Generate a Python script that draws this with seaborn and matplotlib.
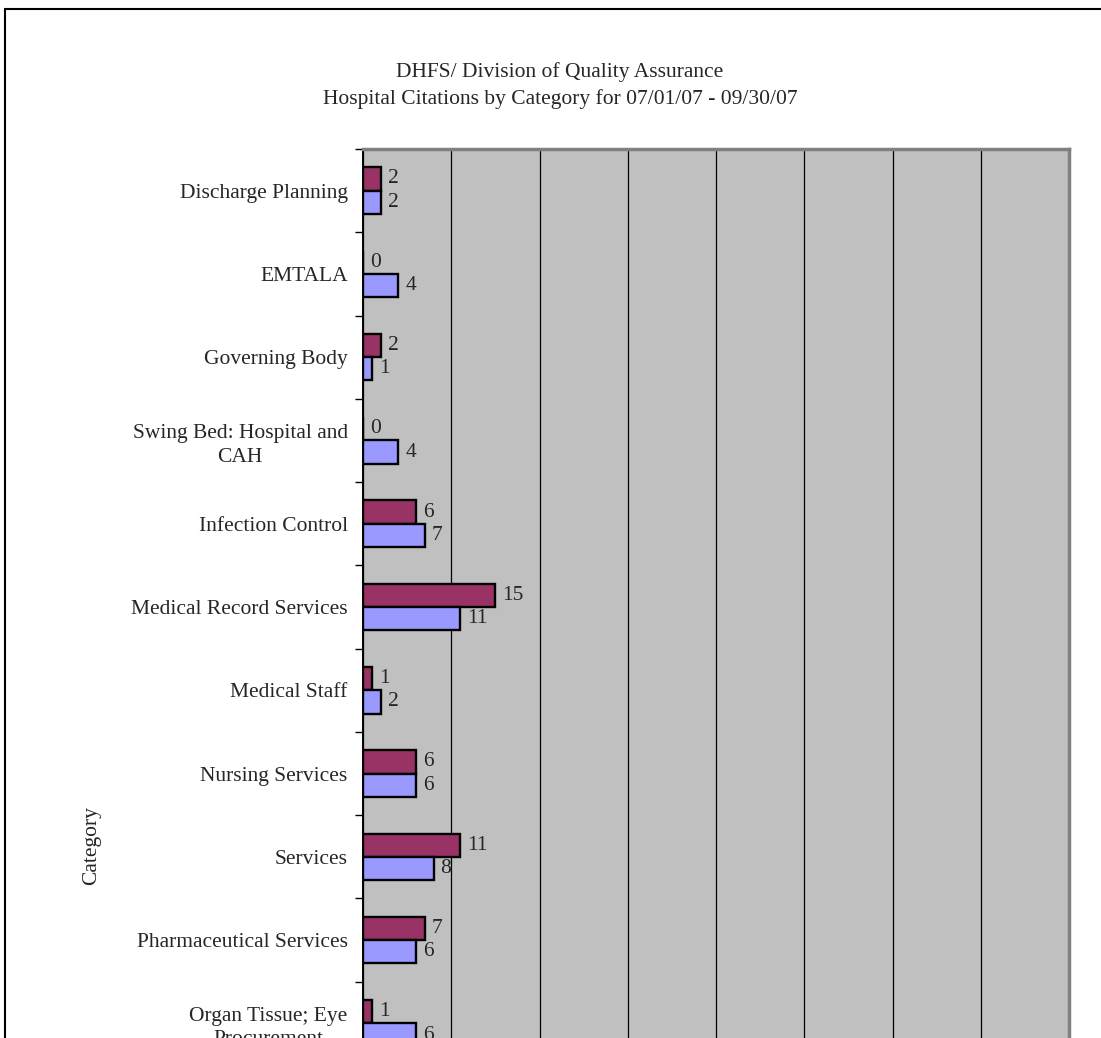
import numpy as np
import pandas as pd
import matplotlib
import seaborn as sns

matplotlib.use("Agg")
from matplotlib import pyplot as plt
from matplotlib.lines import Line2D
from matplotlib.ticker import MultipleLocator

categories = [
    "Discharge Planning",
    "EMTALA",
    "Governing Body",
    "Swing Bed: Hospital and\nCAH",
    "Infection Control",
    "Medical Record Services",
    "Medical Staff",
    "Nursing Services",
    "Services",
    "Pharmaceutical Services",
    "Organ Tissue; Eye\nProcurement",
]
series_names = ["Series 1", "Series 2"]
series_1 = [2, 0, 2, 0, 6, 15, 1, 6, 11, 7, 1]
series_2 = [2, 4, 1, 4, 7, 11, 2, 6, 8, 6, 6]

TITLE = "DHFS/ Division of Quality Assurance\nHospital Citations by Category for 07/01/07 - 09/30/07"
COLORS = ["#993366", "#9999FF"]
FS = 15.5

df = pd.concat(
    [
        pd.DataFrame({"category": categories, "count": series_1, "series": series_names[0]}),
        pd.DataFrame({"category": categories, "count": series_2, "series": series_names[1]}),
    ],
    ignore_index=True,
)

sns.set_style("white")
plt.rcParams["font.family"] = ["Liberation Serif", "DejaVu Serif"]

W, H = 1101, 1038
fig = plt.figure(figsize=(W / 100, H / 100), dpi=100)

# plot area in pixels (the chart runs past the bottom of the picture)
left, right, top, bottom = 363, 1069, 149, 1065
ax = fig.add_axes([left / W, 1 - bottom / H, (right - left) / W, (bottom - top) / H])
ax.set_facecolor("#C0C0C0")

sns.barplot(
    data=df,
    y="category",
    x="count",
    hue="series",
    hue_order=series_names,
    order=categories,
    palette=COLORS,
    orient="h",
    width=0.56,
    edgecolor="black",
    linewidth=1.7,
    saturation=1,
    legend=False,
    ax=ax,
)

for container in ax.containers:
    ax.bar_label(container, fmt="%d", padding=5, fontsize=FS)

ax.set_xlim(0, 80)
ax.set_ylim(len(categories) - 0.5, -0.5)
ax.xaxis.set_major_locator(MultipleLocator(10))
ax.grid(axis="x", color="black", linewidth=0.9)
ax.set_axisbelow(True)
ax.set_xlabel("")

ax.yaxis.set_minor_locator(MultipleLocator(1, offset=0.5))
ax.tick_params(axis="y", which="major", length=0, pad=11, labelsize=FS)
ax.tick_params(axis="y", which="minor", length=6, width=1, color="black", direction="out", left=True)
for lab in ax.get_yticklabels():
    lab.set_multialignment("center")
    lab.set_linespacing(1.33)

ax.set_ylabel("Category", fontsize=FS)
ax.yaxis.set_label_coords(-0.371, 0.24)

for side in ["top", "right"]:
    ax.spines[side].set_color("#808080")
    ax.spines[side].set_linewidth(2.5)
ax.spines["left"].set_color("black")
ax.spines["left"].set_linewidth(1.4)
ax.spines["bottom"].set_visible(False)

fig.text(560 / W, 1 - 86 / H, TITLE, ha="center", va="center", fontsize=FS, linespacing=1.47)

# outer chart border
fig.add_artist(Line2D([5 / W, 1.05], [1 - 9 / H, 1 - 9 / H], color="black", linewidth=1.5, transform=fig.transFigure))
fig.add_artist(Line2D([5 / W, 5 / W], [1 - 9 / H, -0.05], color="black", linewidth=1.5, transform=fig.transFigure))

fig.savefig("out.png", dpi=100)
